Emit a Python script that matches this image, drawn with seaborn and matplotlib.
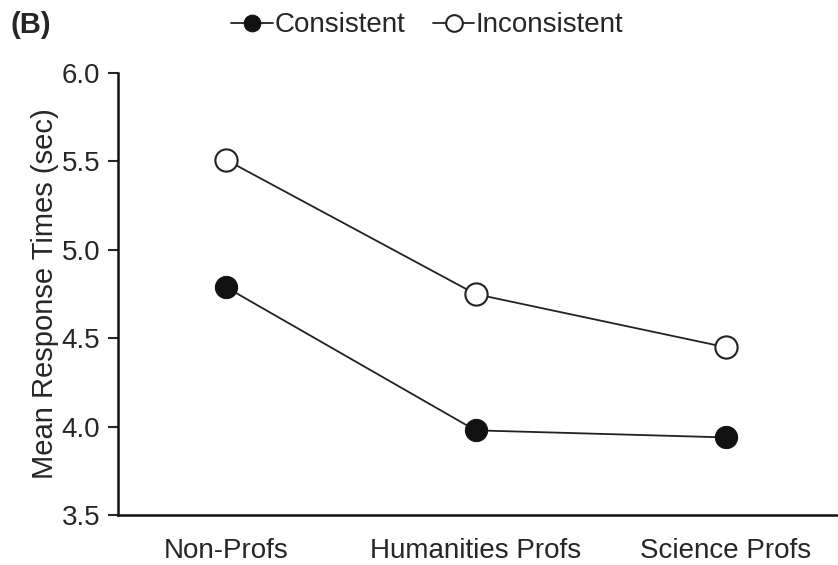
import matplotlib.pyplot as plt
import seaborn as sns
import pandas as pd

groups = ["Non-Profs", "Humanities Profs", "Science Profs"]
consistent = [4.79, 3.98, 3.94]
inconsistent = [5.51, 4.75, 4.45]

sns.set_style("ticks")
plt.rcParams['font.family'] = ['Liberation Sans', 'DejaVu Sans']

df_c = pd.DataFrame({"grupo": groups, "rt": consistent})
df_i = pd.DataFrame({"grupo": groups, "rt": inconsistent})

fig = plt.figure(figsize=(8.38, 5.65), dpi=100)
ax = fig.add_axes([0.141, 0.088, 0.859, 0.783])

sns.lineplot(data=df_c, x="grupo", y="rt", ax=ax, color="#222222", lw=1.3,
             marker="o", markersize=16, markerfacecolor="#111111",
             markeredgecolor="#111111", label="Consistent")
sns.lineplot(data=df_i, x="grupo", y="rt", ax=ax, color="#222222", lw=1.3,
             marker="o", markersize=16, markerfacecolor="white",
             markeredgecolor="#222222", markeredgewidth=1.5, label="Inconsistent")

ax.set_ylim(3.5, 6.0)
ax.set_yticks([3.5, 4.0, 4.5, 5.0, 5.5, 6.0])
ax.set_yticklabels(["3.5", "4.0", "4.5", "5.0", "5.5", "6.0"])
ax.set_xlim(-0.43, 2.45)
ax.set_xlabel("")
ax.set_ylabel("Mean Response Times (sec)", fontsize=21, labelpad=2)
ax.tick_params(axis="y", labelsize=20, length=7, width=1.5, direction="out", pad=6)
ax.tick_params(axis="x", labelsize=20, length=0, pad=16)
sns.despine(ax=ax)
for s in ["left", "bottom"]:
    ax.spines[s].set_linewidth(1.8)
    ax.spines[s].set_color("#111111")

handles, labels = ax.get_legend_handles_labels()
ax.get_legend().remove()
fig.legend(handles, labels, loc="center", bbox_to_anchor=(0.51, 0.955), ncol=2,
           frameon=False, fontsize=20, handlelength=1.5, handletextpad=0.05,
           columnspacing=1.0, markerscale=0.75)
fig.text(0.012, 0.955, "(B)", fontsize=21, fontweight="bold", va="center")

fig.savefig("out.png", dpi=100)
